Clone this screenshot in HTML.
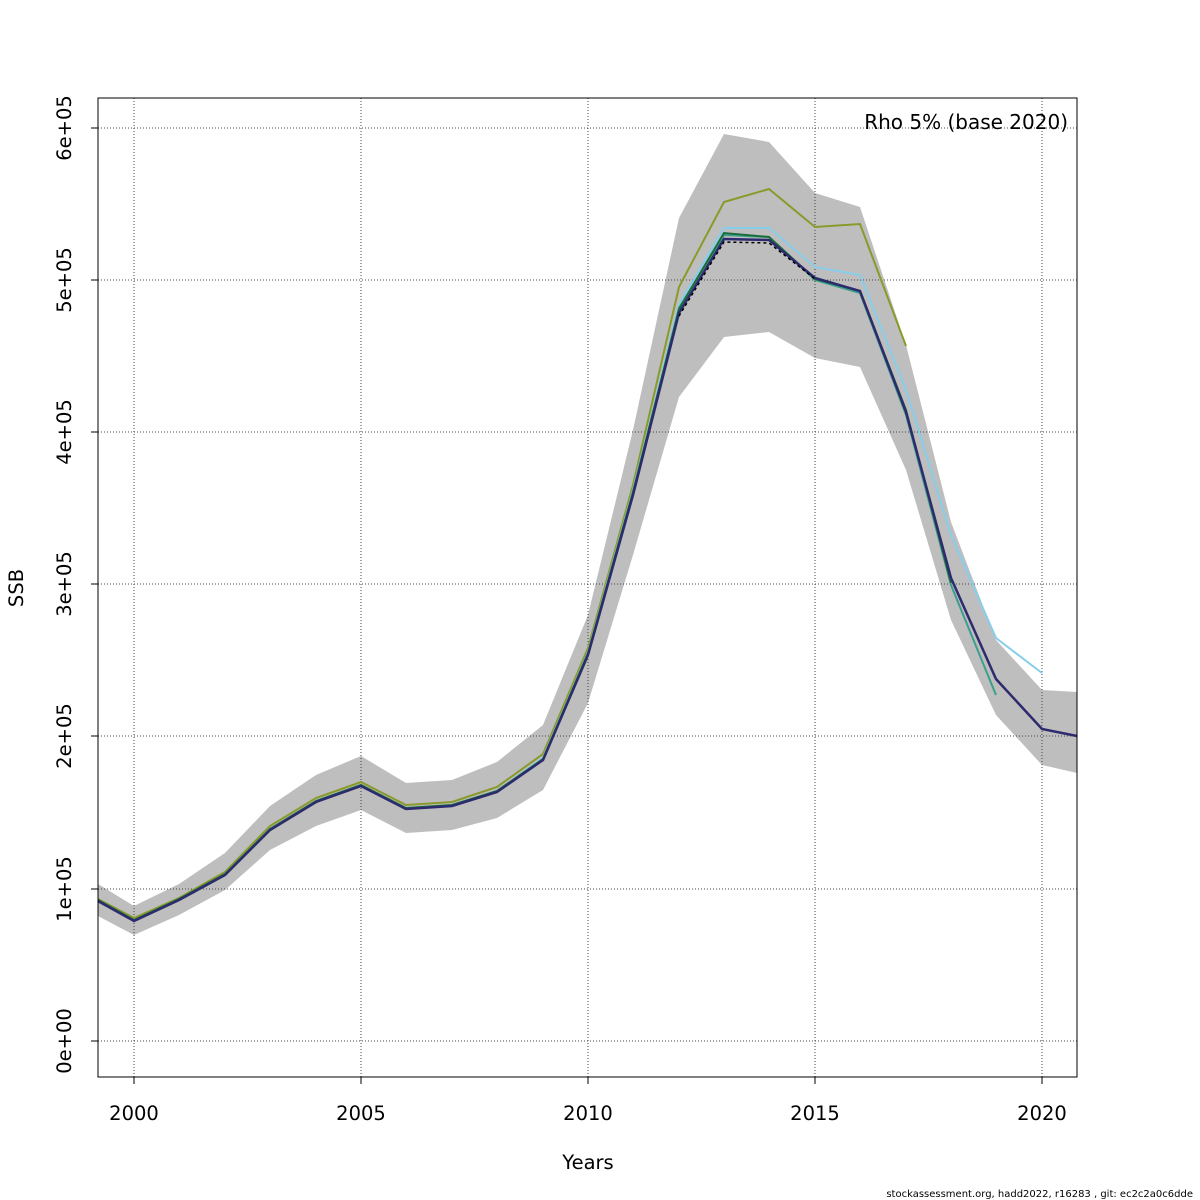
<!DOCTYPE html>
<html><head><meta charset="utf-8"><style>body{margin:0;background:#fff}svg{display:block}</style></head><body>
<svg width="1200" height="1200" xmlns="http://www.w3.org/2000/svg" font-family="DejaVu Sans, Liberation Sans, sans-serif">
<rect width="1200" height="1200" fill="#fff"/>
<polygon fill="#bebebe" points="98,884 134,906 179,884 225,853 270,806 316,775 361,756 406,783 452,780 497,762 543,725 588,615 633,430 679,218 724,134 769,142 815,193 860,207 906,345 951,522 996,640 1042,690 1077,692 1077,773 1042,765 996,715 951,620 906,470 860,367 815,358 769,332 724,337 679,397 633,555 588,703 543,790 497,818 452,830 406,833 361,810 316,826 270,850 225,890 179,915 134,935 98,916"/>
<g stroke="#444" stroke-dasharray="1,2" stroke-width="1">
<line x1="134" y1="98" x2="134" y2="1077"/><line x1="361" y1="98" x2="361" y2="1077"/><line x1="588" y1="98" x2="588" y2="1077"/><line x1="815" y1="98" x2="815" y2="1077"/><line x1="1042" y1="98" x2="1042" y2="1077"/>
<line x1="98" y1="128" x2="1077" y2="128"/><line x1="98" y1="280" x2="1077" y2="280"/><line x1="98" y1="432" x2="1077" y2="432"/><line x1="98" y1="584" x2="1077" y2="584"/><line x1="98" y1="736" x2="1077" y2="736"/><line x1="98" y1="889" x2="1077" y2="889"/><line x1="98" y1="1041" x2="1077" y2="1041"/>
</g>
<g fill="none" stroke-width="2">
<polyline stroke="#8a9a2a" points="98,899 134,918 179,898 225,872 270,826 316,798 361,782 406,805 452,802 497,787 543,754 588,648 633,485 679,287 724,202 769,189 815,227 860,224 906,346"/>
<polyline stroke="#87ceeb" points="98,901 134,920 179,900 225,874 270,829 316,801 361,785 406,808 452,805 497,791 543,758 588,652 633,490 679,305 724,228 769,228 815,267 860,275 906,390 951,535 996,638 1042,673"/>
<polyline stroke="#3aa08c" points="98,901 134,921 179,900 225,875 270,830 316,802 361,786 406,809 452,806 497,792 543,760 588,655 633,494 679,308 724,235 769,237 815,280 860,293 906,415 951,585 996,695"/>
<polyline stroke="#1b6e3c" points="98,900 134,920 179,899 225,874 270,829 316,801 361,785 406,808 452,805 497,791 543,759 588,653 633,492 679,309 724,233 769,237 815,279 860,291 906,410 951,583"/>
<polyline stroke="#2e2a6e" stroke-width="2.5" points="98,901 134,921 179,900 225,875 270,830 316,802 361,786 406,809 452,806 497,792 543,760 588,655 633,495 679,313 724,239 769,240 815,278 860,291 906,412 951,578 996,679 1042,729 1077,736"/>
<polyline stroke="#000" stroke-width="1.5" stroke-dasharray="3,3" points="679,316 724,242 769,243 815,279"/>
</g>
<rect x="98" y="98" width="979" height="979" fill="none" stroke="#000"/>
<g stroke="#000"><line x1="134" y1="1077" x2="134" y2="1084"/><line x1="361" y1="1077" x2="361" y2="1084"/><line x1="588" y1="1077" x2="588" y2="1084"/><line x1="815" y1="1077" x2="815" y2="1084"/><line x1="1042" y1="1077" x2="1042" y2="1084"/>
<line x1="91" y1="128" x2="98" y2="128"/><line x1="91" y1="280" x2="98" y2="280"/><line x1="91" y1="432" x2="98" y2="432"/><line x1="91" y1="584" x2="98" y2="584"/><line x1="91" y1="736" x2="98" y2="736"/><line x1="91" y1="889" x2="98" y2="889"/><line x1="91" y1="1041" x2="98" y2="1041"/></g>
<g font-size="19.5" text-anchor="middle">
<text x="134" y="1120">2000</text><text x="361" y="1120">2005</text><text x="588" y="1120">2010</text><text x="815" y="1120">2015</text><text x="1042" y="1120">2020</text>
<text x="588" y="1169">Years</text>
<text transform="translate(23,588) rotate(-90)">SSB</text>
<text transform="translate(71,128) rotate(-90)">6e+05</text>
<text transform="translate(71,280) rotate(-90)">5e+05</text>
<text transform="translate(71,432) rotate(-90)">4e+05</text>
<text transform="translate(71,584) rotate(-90)">3e+05</text>
<text transform="translate(71,736) rotate(-90)">2e+05</text>
<text transform="translate(71,889) rotate(-90)">1e+05</text>
<text transform="translate(71,1041) rotate(-90)">0e+00</text>
</g>
<text x="1068" y="129" font-size="20" text-anchor="end">Rho 5% (base 2020)</text>
<text x="1193" y="1197" font-size="10" text-anchor="end">stockassessment.org, hadd2022, r16283 , git: ec2c2a0c6dde</text>
</svg>
</body></html>
